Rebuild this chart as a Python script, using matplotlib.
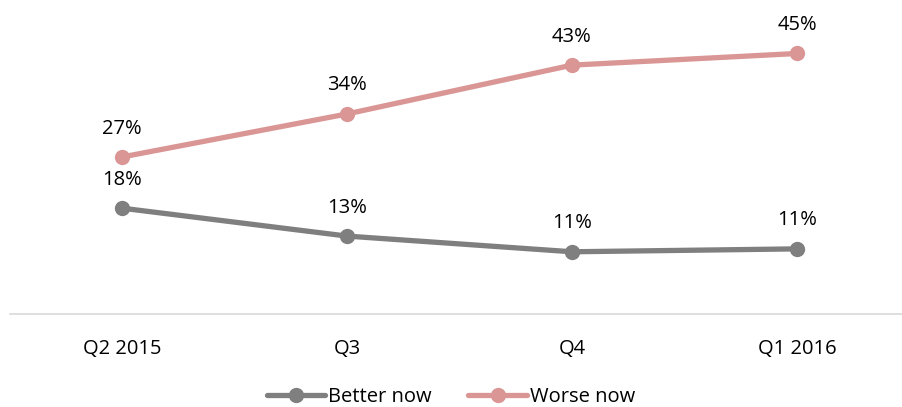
import matplotlib
matplotlib.use("Agg")
import matplotlib.pyplot as plt

plt.rcParams["font.family"] = ["Open Sans", "DejaVu Sans"]

# ── Data ──────────────────────────────────────────────────────────────
quarters = ["Q2 2015", "Q3", "Q4", "Q1 2016"]
better_now = [18.2, 13.4, 10.7, 11.2]
worse_now = [27.0, 34.4, 42.8, 44.8]

C_BETTER = "#7f7f7f"
C_WORSE = "#d99694"

fig = plt.figure(figsize=(9.02, 4.07), dpi=100)
ax = fig.add_axes([9.5 / 902, 1 - 314 / 407, 900 / 902, 314 / 407])

x = range(len(quarters))
ax.plot(x, better_now, color=C_BETTER, lw=3.8, marker="o", ms=10,
        solid_capstyle="round", label="Better now", clip_on=False)
ax.plot(x, worse_now, color=C_WORSE, lw=3.8, marker="o", ms=10,
        solid_capstyle="round", label="Worse now", clip_on=False)

for series in (better_now, worse_now):
    for i, v in enumerate(series):
        ax.annotate(f"{round(v):.0f}%", (i, v), xytext=(0, 20.5),
                    textcoords="offset points", ha="center", va="center",
                    fontsize=14.5, color="#000000")

ax.set_xlim(-0.5, 3.5)
ax.set_ylim(0, 54)
ax.set_yticks([])
ax.set_xticks(list(x))
ax.set_xticklabels(quarters, fontsize=14.5)
ax.tick_params(axis="x", length=0, pad=18)
for s in ("top", "right", "left"):
    ax.spines[s].set_visible(False)
ax.spines["bottom"].set_color("#d9d9d9")
ax.spines["bottom"].set_linewidth(1.2)

fig.legend(loc="center", bbox_to_anchor=(0.5, 1 - 397 / 407), ncol=2,
           frameon=False, fontsize=14.5, handlelength=2.9, handletextpad=0.15,
           columnspacing=1.8)

fig.savefig("out.png", dpi=100)
